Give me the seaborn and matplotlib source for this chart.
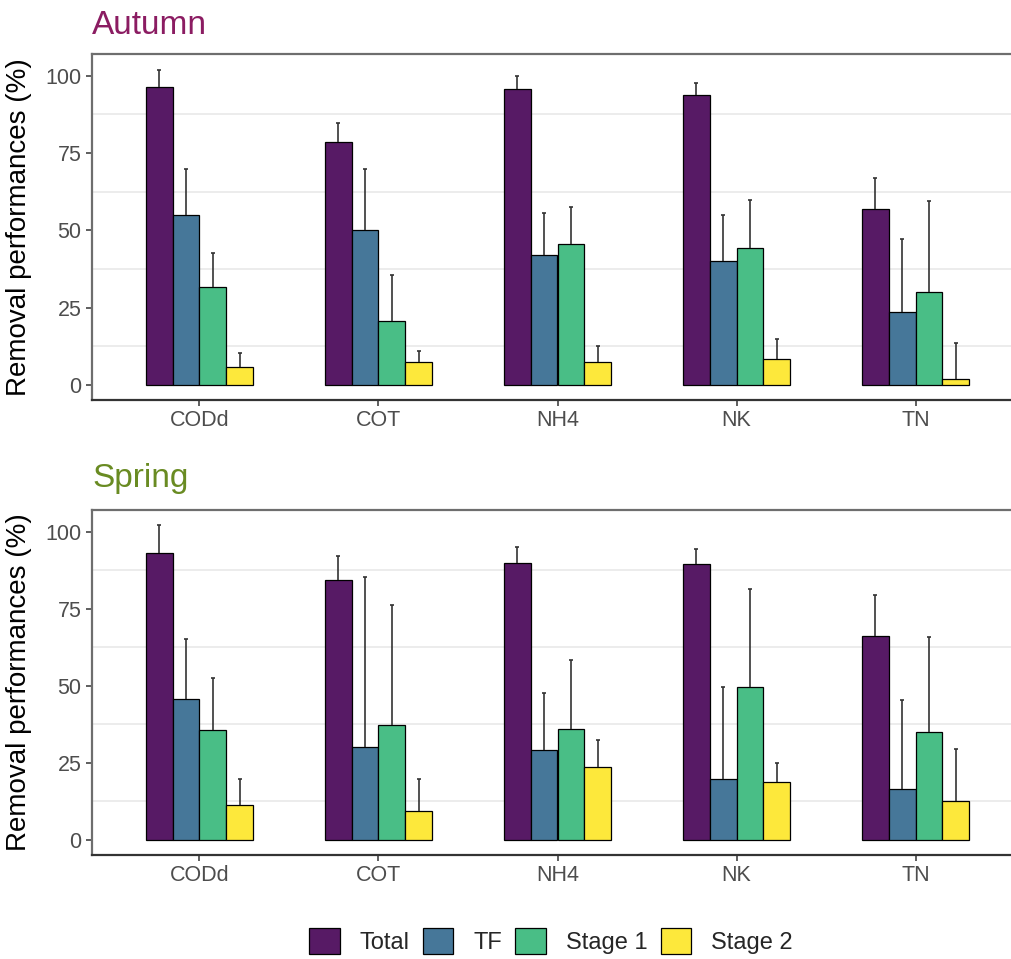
import seaborn as sns
import pandas as pd
import matplotlib.pyplot as plt

# data
params = ["CODd", "COT", "NH4", "NK", "TN"]
stages = ["Total", "TF", "Stage 1", "Stage 2"]

autumn_mean = {
    "Total":   [96.2, 78.7, 95.8, 93.9, 56.9],
    "TF":      [54.8, 50.2, 42.1, 40.0, 23.5],
    "Stage 1": [31.6, 20.7, 45.5, 44.1, 29.9],
    "Stage 2": [5.9, 7.3, 7.3, 8.4, 2.0],
}
autumn_upper = {
    "Total":   [101.7, 84.7, 99.8, 97.5, 66.9],
    "TF":      [69.9, 69.9, 55.6, 54.8, 47.2],
    "Stage 1": [42.6, 35.4, 57.4, 59.8, 59.6],
    "Stage 2": [10.3, 11.1, 12.7, 14.9, 13.5],
}
spring_mean = {
    "Total":   [93.2, 84.4, 89.9, 89.4, 66.2],
    "TF":      [45.7, 30.2, 29.3, 19.7, 16.4],
    "Stage 1": [35.6, 37.3, 36.1, 49.6, 34.9],
    "Stage 2": [11.3, 9.3, 23.5, 18.9, 12.7],
}
spring_upper = {
    "Total":   [102.0, 92.0, 94.9, 94.5, 79.4],
    "TF":      [65.3, 85.4, 47.5, 49.6, 45.3],
    "Stage 1": [52.5, 76.1, 58.5, 81.5, 65.9],
    "Stage 2": [19.8, 19.8, 32.4, 24.8, 29.4],
}

colors = ["#571a65", "#467799", "#49be86", "#fde83b"]


def to_long(mean, upper):
    rows = []
    for s in stages:
        for p, m, u in zip(params, mean[s], upper[s]):
            rows.append({"Parameter": p, "Stage": s, "Value": m, "Upper": u})
    return pd.DataFrame(rows)


sns.set_style("white")
plt.rcParams["font.family"] = ["Liberation Sans", "DejaVu Sans"]

fig = plt.figure(figsize=(10.12, 9.59), dpi=100)
W, H = 1012, 959

panels = [
    ("Autumn", "#8b1c62", autumn_mean, autumn_upper, 54, 400, 14.5),
    ("Spring", "#698b22", spring_mean, spring_upper, 510, 855, 16.5),
]

for title, tcolor, mean, upper, top, bottom, pad in panels:
    ax = fig.add_axes([92 / W, 1 - bottom / H, 931 / W, (bottom - top) / H])
    df = to_long(mean, upper)
    sns.barplot(data=df, x="Parameter", y="Value", hue="Stage",
                order=params, hue_order=stages, palette=colors,
                saturation=1, width=0.6, edgecolor="black", linewidth=0.9,
                errorbar=None, ax=ax)

    # upper error bars (stem from bar top + small cap)
    cap = 0.012
    for cont, s in zip(ax.containers, stages):
        sub = df[df["Stage"] == s].set_index("Parameter").loc[params]
        xs = [b.get_x() + b.get_width() / 2 for b in cont]
        ax.vlines(xs, sub["Value"].values, sub["Upper"].values,
                  color="#333333", linewidth=1.2, zorder=1)
        ax.hlines(sub["Upper"].values, [x - cap for x in xs],
                  [x + cap for x in xs], color="#333333", linewidth=1.2,
                  zorder=1)

    ax.set_xlim(-0.6, 4.6)
    ax.set_ylim(-4.9, 107.0)
    ax.set_yticks([0, 25, 50, 75, 100])
    ax.set_yticks([12.5, 37.5, 62.5, 87.5], minor=True)
    ax.grid(False)
    ax.yaxis.grid(True, which="minor", color="#ebebeb", linewidth=1.3, zorder=0)
    ax.set_axisbelow(True)

    ax.tick_params(axis="both", which="major", length=4, width=1.1,
                   color="#333333", labelsize=15.5, labelcolor="#4d4d4d",
                   direction="out", left=True, bottom=True)
    ax.tick_params(axis="y", which="minor", length=0)

    for side in ["top", "left"]:
        ax.spines[side].set_color("#6e6e6e")
        ax.spines[side].set_linewidth(1.6)
    ax.spines["bottom"].set_color("#333333")
    ax.spines["bottom"].set_linewidth(1.6)
    ax.spines["right"].set_visible(False)

    ax.set_xlabel("")
    ax.set_ylabel("Removal performances (%)", fontsize=20, color="black")
    ax.yaxis.set_label_coords(-60 / 931, 0.5)
    ax.set_title(title, loc="left", fontsize=24, color=tcolor, pad=pad)

    handles, labels = ax.get_legend_handles_labels()
    ax.get_legend().remove()

fig.legend(handles, labels, loc="center", bbox_to_anchor=(551 / W, 18 / H),
           ncol=4, frameon=False, fontsize=17, handlelength=1.3,
           handleheight=1.3, handletextpad=0.85, columnspacing=0.55)

fig.savefig("out.png", dpi=100)
